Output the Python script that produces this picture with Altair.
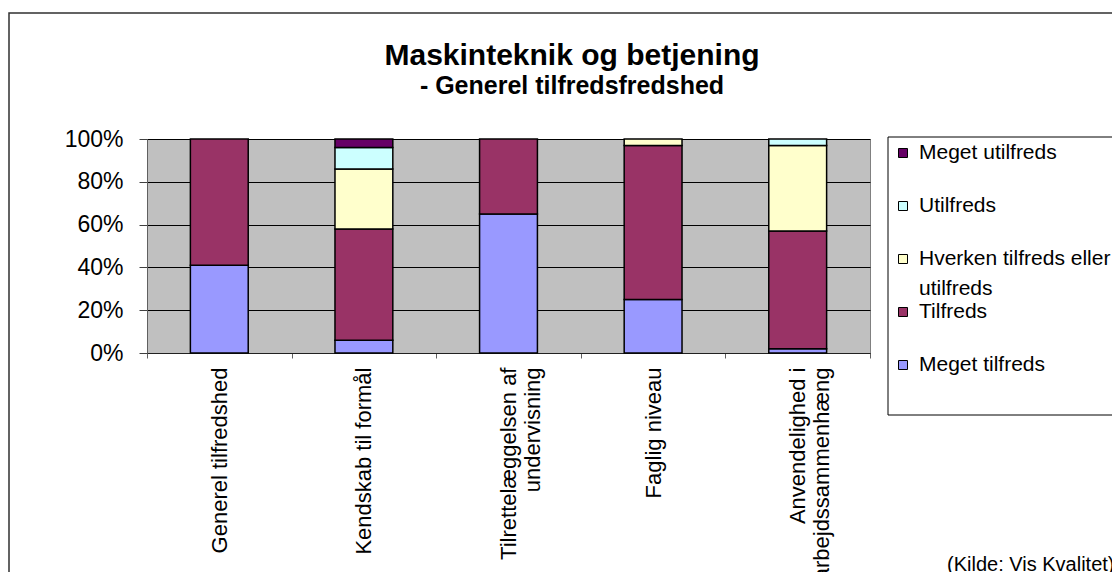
import altair as alt
import pandas as pd

FONT = "Liberation Sans"

categories = [
    "Generel tilfredshed",
    "Kendskab til formål",
    "Tilrettelæggelsen af undervisning",
    "Faglig niveau",
    "Anvendelighed i arbejdssammenhæng",
]
series = ["Meget tilfreds", "Tilfreds", "Hverken tilfreds eller utilfreds", "Utilfreds", "Meget utilfreds"]
colors = ["#9999FF", "#993366", "#FFFFCC", "#CCFFFF", "#660066"]

meget_tilfreds = [41, 6, 65, 25, 2]
tilfreds = [59, 52, 35, 72, 55]
hverken = [0, 28, 0, 3, 40]
utilfreds = [0, 10, 0, 0, 3]
meget_utilfreds = [0, 4, 0, 0, 0]

y_ticks = [0, 20, 40, 60, 80, 100]

title_text = "Maskinteknik og betjening"
subtitle_text = "- Generel tilfredsfredshed"
source_text = "(Kilde: Vis Kvalitet)"

legend_order = ["Meget utilfreds", "Utilfreds", "Hverken tilfreds eller utilfreds", "Tilfreds", "Meget tilfreds"]
legend_text = ["Meget utilfreds", "Utilfreds", "Hverken tilfreds eller\nutilfreds", "Tilfreds", "Meget tilfreds"]

x_label_lines = {
    "Tilrettelæggelsen af undervisning": ["Tilrettelæggelsen af", "undervisning"],
    "Anvendelighed i arbejdssammenhæng": ["Anvendelighed i", "arbejdssammenhæng"],
}

rows = []
for s_i, (name, vals) in enumerate(zip(series, [meget_tilfreds, tilfreds, hverken, utilfreds, meget_utilfreds])):
    for c, v in zip(categories, vals):
        if v > 0:
            rows.append({"category": c, "series": name, "value": v, "order": s_i})
df = pd.DataFrame(rows)

label_expr = ""
for k, lines in x_label_lines.items():
    arr = "[" + ", ".join("'" + l + "'" for l in lines) + "]"
    label_expr += f"datum.label == '{k}' ? {arr} : "
label_expr += "datum.label"

color_scale = alt.Scale(domain=series, range=colors)

bars = alt.Chart(df).mark_bar(
    stroke="black", strokeWidth=1.5, width=alt.RelativeBandSize(0.4)
).encode(
    x=alt.X(
        "category:N",
        sort=categories,
        scale=alt.Scale(paddingInner=0, paddingOuter=0),
        axis=alt.Axis(
            title=None,
            labelAngle=-90,
            labelAlign="right",
            labelBaseline="middle",
            labelFont=FONT,
            labelFontSize=22,
            labelColor="black",
            labelLimit=400,
            labelPadding=9,
            labelLineHeight=24,
            labelExpr=label_expr,
            tickBand="extent",
            tickSize=5,
            tickColor="#606060",
            domainColor="#202020",
            labelOverlap=False,
        ),
    ),
    y=alt.Y(
        "value:Q",
        stack="zero",
        scale=alt.Scale(domain=[0, 100], nice=False),
        axis=alt.Axis(
            title=None,
            values=y_ticks,
            labelExpr="datum.value + '%'",
            labelFont=FONT,
            labelFontSize=23,
            labelColor="black",
            labelPadding=16,
            tickSize=8,
            tickColor="#404040",
            domainColor="#606060",
            grid=True,
            gridColor="black",
            gridWidth=1,
        ),
    ),
    color=alt.Color("series:N", scale=color_scale, legend=None),
    order=alt.Order("order:Q"),
)

one = pd.DataFrame({"a": [0]})

frame = alt.Chart(one).mark_rect(fillOpacity=0, stroke="#303030", strokeWidth=1.5).encode(
    x=alt.value(-138), x2=alt.value(2000), y=alt.value(-126), y2=alt.value(2000)
)
legend_box = alt.Chart(one).mark_rect(fillOpacity=0, stroke="black", strokeWidth=1).encode(
    x=alt.value(741), x2=alt.value(2000), y=alt.value(-2), y2=alt.value(276)
)

legend_df = pd.DataFrame({"series": legend_order, "text": legend_text})
leg_y = alt.Y(
    "series:N",
    sort=legend_order,
    scale=alt.Scale(type="point", domain=legend_order, range=[14, 226], padding=0),
    axis=None,
)
leg_sq = alt.Chart(legend_df).mark_square(size=81, stroke="black", strokeWidth=1, opacity=1).encode(
    x=alt.value(756), y=leg_y, color=alt.Color("series:N", scale=color_scale, legend=None)
)
leg_txt = alt.Chart(legend_df).mark_text(
    align="left", baseline="middle", font=FONT, fontSize=21, lineBreak="\n", lineHeight=30, color="black"
).encode(x=alt.value(772), y=leg_y, text="text:N")

title = alt.Chart(one).mark_text(
    text=title_text, font=FONT, fontSize=30, fontWeight="bold", align="center", baseline="alphabetic", color="black"
).encode(x=alt.value(425), y=alt.value(-74))
subtitle = alt.Chart(one).mark_text(
    text=subtitle_text, font=FONT, fontSize=25, fontWeight="bold", align="center", baseline="alphabetic", color="black"
).encode(x=alt.value(425), y=alt.value(-45))
source = alt.Chart(one).mark_text(
    text=source_text, font=FONT, fontSize=20, align="left", baseline="alphabetic", color="black"
).encode(x=alt.value(800), y=alt.value(432))

chart = alt.layer(frame, legend_box, bars, leg_sq, leg_txt, title, subtitle, source).resolve_scale(
    y="independent"
).properties(
    width=723,
    height=214,
    autosize=alt.AutoSizeParams(type="none"),
    padding={"left": 139, "top": 131, "right": 242, "bottom": 219},
    background="white",
).configure_view(
    fill="#C0C0C0", stroke="#808080", strokeWidth=1
)

chart.save("out.html", embed_options={"renderer": "svg", "actions": False})
